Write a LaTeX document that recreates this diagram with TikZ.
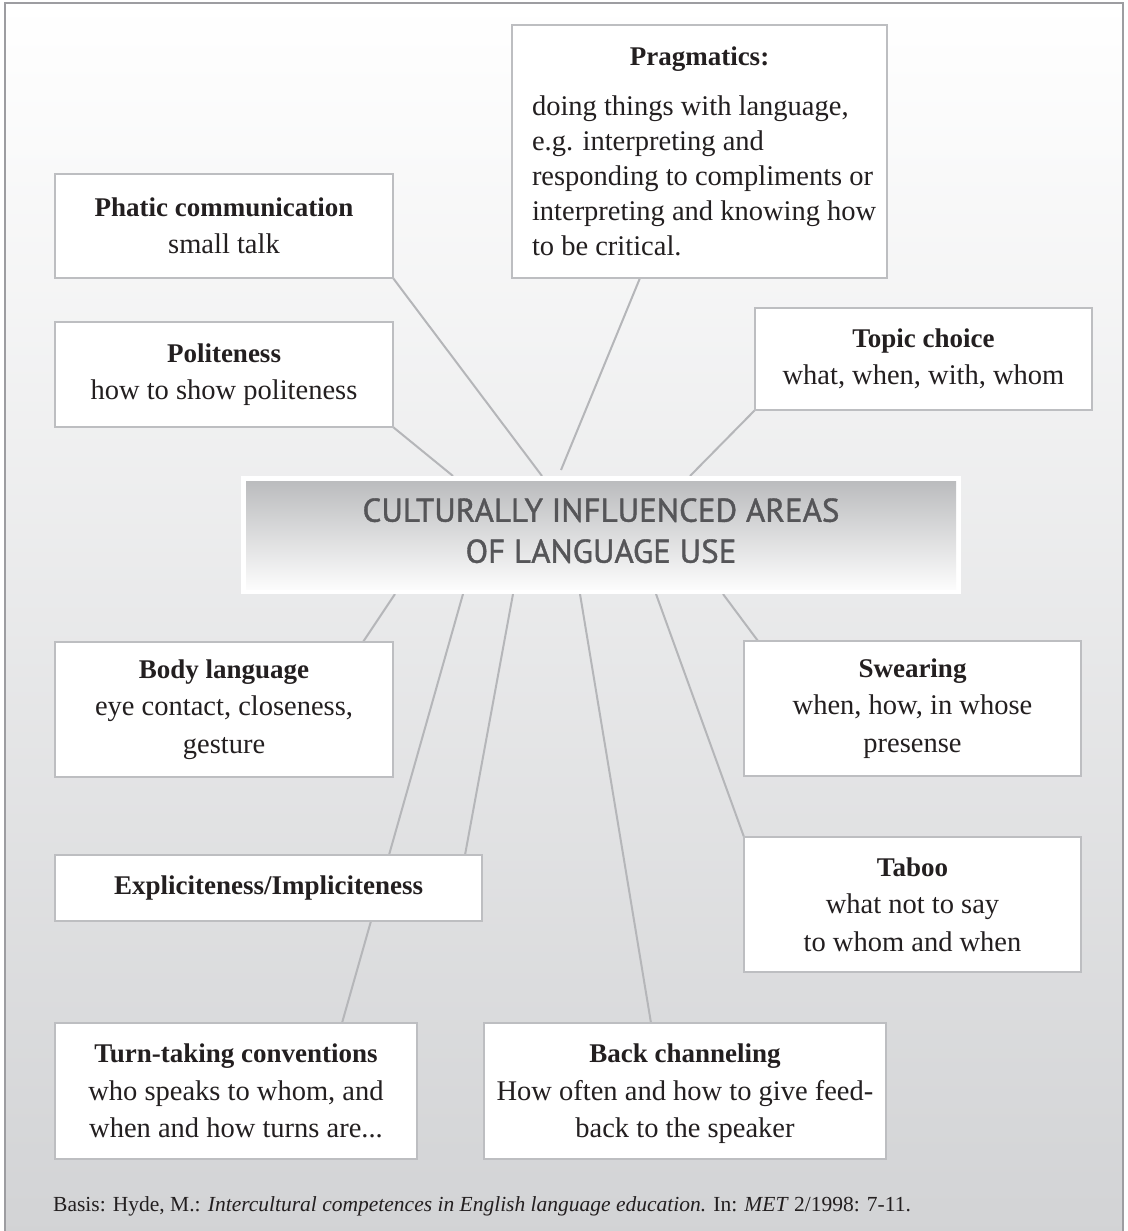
\documentclass[tikz,border=0pt]{standalone}
\usepackage{fontspec}
\setmainfont{Liberation Serif}
\newfontfamily\headfont[FakeBold=1.2]{PT Sans}
\pgfdeclarelayer{background}
\pgfsetlayers{background,main}

\definecolor{framegray}{HTML}{9D9DA1}
\definecolor{boxline}{HTML}{BDBEC1}
\definecolor{linkgray}{HTML}{B5B6B9}
\definecolor{bgbottom}{HTML}{D2D3D5}
\definecolor{hubtop}{HTML}{B8B9BB}
\definecolor{hubtext}{HTML}{555558}
\definecolor{ink}{HTML}{231F20}

% bold heading inside a card
\newcommand\cardtitle[1]{{\fontsize{27}{37.5}\selectfont\bfseries #1}}

\begin{document}
\begin{tikzpicture}[x=1pt,y=-1pt,
  card/.style={draw=boxline, line width=2.5pt, fill=white, text=ink,
    align=center, inner sep=0pt, outer sep=0pt,
    font=\fontsize{28.5}{37.5}\selectfont},
  link/.style={draw=linkgray, line width=2pt}]
\useasboundingbox (0,0) rectangle (1127,1231);

% central hub
\node[fill=white, outer sep=0pt, inner sep=0pt,
  minimum width=720pt, minimum height=118pt, text depth=9pt,
  text=hubtext, align=center, font=\headfont\fontsize{33}{41}\selectfont,
  path picture={\shade[top color=hubtop, bottom color=white]
    ([xshift=5pt,yshift=-5pt]path picture bounding box.north west) rectangle
    ([xshift=-5pt,yshift=5pt]path picture bounding box.south east);}]
  (hub) at (601,535) {CULTURALLY INFLUENCED AREAS\\OF LANGUAGE USE};

% surrounding cards
\node[card, minimum width=338pt, minimum height=104pt] (phatic) at (224,226)
  {\cardtitle{Phatic communication}\\small talk};
\node[card, minimum width=375pt, minimum height=253pt, text width=355pt,
  inner xsep=10pt, align=none] (prag) at (699.5,151.5)
  {{\centering\cardtitle{Pragmatics:}\par}\vspace{14.5pt}%
   \raggedright\leftskip=10pt\baselineskip=35pt doing things with language,\\
   e.g. interpreting and\\
   responding to compliments or\\
   interpreting and knowing how\\
   to be critical.\par};
\node[card, minimum width=338pt, minimum height=105pt] (polite) at (224,374.5)
  {\cardtitle{Politeness}\\how to show politeness};
\node[card, minimum width=337pt, minimum height=102pt] (topic) at (923.5,359)
  {\cardtitle{Topic choice}\\what, when, with, whom};
\node[card, minimum width=338pt, minimum height=135pt] (body) at (224,709.5)
  {\cardtitle{Body language}\\eye contact, closeness,\\gesture};
\node[card, minimum width=337pt, minimum height=135pt] (swear) at (912.5,708.5)
  {\cardtitle{Swearing}\\when, how, in whose\\presense};
\node[card, minimum width=427pt, minimum height=66pt] (expl) at (268.5,888)
  {\cardtitle{Expliciteness/Impliciteness}};
\node[card, minimum width=337pt, minimum height=135pt] (taboo) at (912.5,904.5)
  {\cardtitle{Taboo}\\what not to say\\to whom and when};
\node[card, minimum width=362pt, minimum height=136pt] (turn) at (236,1091)
  {\cardtitle{Turn-taking conventions}\\who speaks to whom, and\\when and how turns are...};
\node[card, minimum width=402pt, minimum height=136pt, text depth=0pt] (back) at (685,1091)
  {\cardtitle{Back channeling}\\How often and how to give feed-\\back to the speaker};

% source line
\node[anchor=base west, inner sep=0pt, text=ink, font=\fontsize{21.5}{24}\selectfont]
  (source) at (53,1211)
  {Basis: Hyde, M.: \textit{Intercultural competences in English language education.} In: \textit{MET} 2/1998: 7-11.};

\begin{pgfonlayer}{background}
  % page background and frame
  \shade[top color=white, bottom color=bgbottom] (5,3) rectangle (1123,1240);
  \draw[framegray, line width=2pt] (5,1240) -- (5,3) -- (1123,3) -- (1123,1240);
  % connectors to the hub
  \draw[link] (phatic.south east) -- ([xshift=301pt]hub.north west);
  \draw[link] ([xshift=128pt]prag.south west) -- ([xshift=320pt,yshift=6pt]hub.north west);
  \draw[link] (polite.south east) -- ([xshift=212pt]hub.north west);
  \draw[link] (topic.south west) -- ([xshift=449pt]hub.north west);
  \draw[link] ([xshift=308pt]body.north west) -- ([xshift=154pt]hub.south west);
  \draw[link] ([xshift=334pt]expl.north west) -- ([xshift=222pt]hub.south west);
  \draw[link] ([xshift=410pt]expl.north west) -- ([xshift=272pt]hub.south west);
  \draw[link] ([xshift=167pt]back.north west) -- ([xshift=339pt]hub.south west);
  \draw[link] (taboo.north west) -- ([xshift=415pt]hub.south west);
  \draw[link] ([xshift=14pt]swear.north west) -- ([xshift=482pt]hub.south west);
  \draw[link] ([xshift=287pt]turn.north west) -- ([xshift=316pt]expl.south west);
\end{pgfonlayer}
\end{tikzpicture}
\end{document}
